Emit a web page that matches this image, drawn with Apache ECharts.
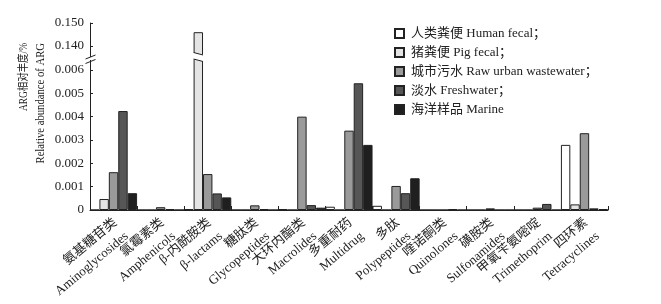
<!DOCTYPE html>
<html><head><meta charset="utf-8">
<script src="https://cdn.jsdelivr.net/npm/echarts@6/dist/echarts.min.js"></script>
<style>html,body{margin:0;padding:0;background:#fff}#c{width:661px;height:304px}</style>
</head><body><div id="c"></div>
<script>
// ---- data ----
const categoriesZh = ['氨基糖苷类','氯霉素类','β-内酰胺类','糖肽类','大环内酯类','多重耐药','多肽','喹诺酮类','磺胺类','甲氧苄氨嘧啶','四环素'];
const categoriesEn = ['Aminoglycosides','Amphenicols','β-lactams','Glycopeptides','Macrolides','Multidrug','Polypeptides','Quinolones','Sulfonamides','Trimethoprim','Tetracyclines'];
const seriesNames = ['人类粪便 Human fecal；','猪粪便 Pig fecal；','城市污水 Raw urban wastewater；','淡水 Freshwater；','海洋样品 Marine'];
const humanFecal      = [0,       0,       0.00004, 0,       0.00004, 0.00014, 0.00018, 0,       0,       0,       0.00279];
const pigFecal        = [0.00047, 0,       0.146,   0,       0,       0,       0,       0,       0,       0,       0.00024];
const urbanWastewater = [0.00162, 0.00012, 0.00154, 0.0002,  0.0040,  0.0034,  0.00103, 0,       0.00007, 0.0001,  0.00329];
const freshwater      = [0.00424, 0.00004, 0.00071, 0.00004, 0.00021, 0.00543, 0.00072, 0.00004, 0,       0.00026, 0.00007];
const marine          = [0.00072, 0,       0.00054, 0,       0.0001,  0.00279, 0.00136, 0,       0,       0,       0.00004];
const lowerTicks = [0, 0.001, 0.002, 0.003, 0.004, 0.005, 0.006];
const upperTicks = [0.140, 0.150];
const yNameZh = 'ARG相对丰度/%';
const yNameEn = 'Relative abundance of ARG';

// ---- style ----
const FONT = '"Liberation Serif","Times New Roman","Noto Sans CJK SC",serif';
const TXT = '#222';
const colors = ['#ffffff', '#e4e4e4', '#9a9a9a', '#565656', '#1f1f1f'];
const seriesData = [humanFecal, pigFecal, urbanWastewater, freshwater, marine];
const categories = categoriesZh.map((z, i) => z + '\n' + categoriesEn[i]);

const chart = echarts.init(document.getElementById('c'));

const xAxisBase = {
  type: 'category', data: categories, boundaryGap: true,
  axisLine: { lineStyle: { color: TXT, width: 1 } },
  axisTick: { show: true, inside: true, length: 4, lineStyle: { color: TXT } },
  splitLine: { show: false }
};

const series = [];
[0, 1].forEach(g => {
  seriesData.forEach((d, i) => {
    series.push({
      type: 'bar', name: seriesNames[i], xAxisIndex: g, yAxisIndex: g, data: d,
      barGap: '0%', barCategoryGap: '0%', clip: true,
      itemStyle: { color: colors[i], borderColor: '#222', borderWidth: 1 },
      emphasis: { disabled: true }, silent: true
    });
  });
});

chart.setOption({
  animation: false,
  backgroundColor: '#fff',
  textStyle: { fontFamily: FONT },
  grid: [
    { left: 90, right: 53, top: 58.3, height: 151.7 },
    { left: 90, right: 53, top: 23, height: 34.5 }
  ],
  legend: {
    orient: 'vertical', left: 394, top: 27, itemWidth: 9, itemHeight: 9, itemGap: 6,
    data: seriesNames, padding: 0, icon: 'rect',
    textStyle: { fontFamily: FONT, fontSize: 13, color: TXT, padding: [0, 0, 0, 2] }
  },
  xAxis: [
    Object.assign({}, xAxisBase, {
      gridIndex: 0,
      axisLabel: {
        rotate: 40, margin: 9, interval: 0, color: TXT,
        formatter: (v, i) => '{p| }\n{t|' + categoriesZh[i] + '}\n{t|' + categoriesEn[i] + '}',
        rich: {
          p: { fontSize: 1, lineHeight: 23 },
          t: { fontSize: 13, fontFamily: FONT, color: TXT, lineHeight: 18 }
        }
      }
    }),
    Object.assign({}, xAxisBase, { gridIndex: 1, show: false })
  ],
  yAxis: [
    {
      type: 'value', gridIndex: 0, min: 0, max: 0.0065, interval: 0.001,
      axisLine: { show: true, lineStyle: { color: TXT } },
      axisTick: { show: true, inside: true, length: 3, customValues: lowerTicks, lineStyle: { color: TXT } },
      axisLabel: { customValues: lowerTicks, fontSize: 13, color: TXT, fontFamily: FONT, margin: 6,
        formatter: v => v === 0 ? '0' : v.toFixed(3) },
      splitLine: { show: false }
    },
    {
      type: 'value', gridIndex: 1, min: 0.135, max: 0.150, interval: 0.005,
      axisLine: { show: true, lineStyle: { color: TXT } },
      axisTick: { show: true, inside: true, length: 3, customValues: upperTicks, lineStyle: { color: TXT } },
      axisLabel: { customValues: upperTicks, fontSize: 13, color: TXT, fontFamily: FONT, margin: 6,
        formatter: v => v.toFixed(3) },
      splitLine: { show: false }
    }
  ],
  series: series
});

// ---- decorations: y-axis name and break marks ----
const upperBottom = chart.convertToPixel({ yAxisIndex: 1 }, 0.135);
const c0 = chart.convertToPixel({ xAxisIndex: 0 }, 0);
const c1 = chart.convertToPixel({ xAxisIndex: 0 }, 1);
const bw = (c1 - c0) / 5;
const bIdx = categoriesEn.indexOf('β-lactams');
const bc = chart.convertToPixel({ xAxisIndex: 0 }, bIdx);
const xl = bc - 1.5 * bw, xr = bc - 0.5 * bw;
const ax = 90.5;
const yb = upperBottom;
const line = (x1, y1, x2, y2) => ({ type: 'line', silent: true, z: 100,
  shape: { x1, y1, x2, y2 }, style: { stroke: '#222', lineWidth: 1 } });

chart.setOption({
  graphic: [
    { type: 'text', silent: true, x: 32.5, y: 43, rotation: Math.PI / 2, scaleX: 0.82, scaleY: 1,
      style: { text: '{zh|' + yNameZh + '}\n{en|' + yNameEn + '}', fill: TXT,
        align: 'right', verticalAlign: 'middle',
        rich: {
          zh: { fontFamily: FONT, fontSize: 11.5, lineHeight: 17, fill: TXT, align: 'right' },
          en: { fontFamily: FONT, fontSize: 13, lineHeight: 17, fill: TXT, align: 'right' }
        } } },
    // axis gap + slashes
    { type: 'rect', silent: true, z: 99, shape: { x: ax - 3, y: yb - 0.5, width: 6, height: 3 },
      style: { fill: '#fff' } },
    line(ax - 5, yb + 1.5, ax + 5, yb - 2.5),
    line(ax - 5, yb + 6, ax + 5, yb + 2),
    // bar break
    { type: 'polygon', silent: true, z: 99,
      shape: { points: [[xl - 1.5, yb - 5.2], [xr + 1.5, yb - 2.5], [xr + 1.5, yb + 4.2], [xl - 1.5, yb + 1.5]] },
      style: { fill: '#fff' } },
    line(xl, yb - 5, xr, yb - 2.5),
    line(xl, yb + 1.5, xr, yb + 4)
  ]
});
</script>
</body></html>
